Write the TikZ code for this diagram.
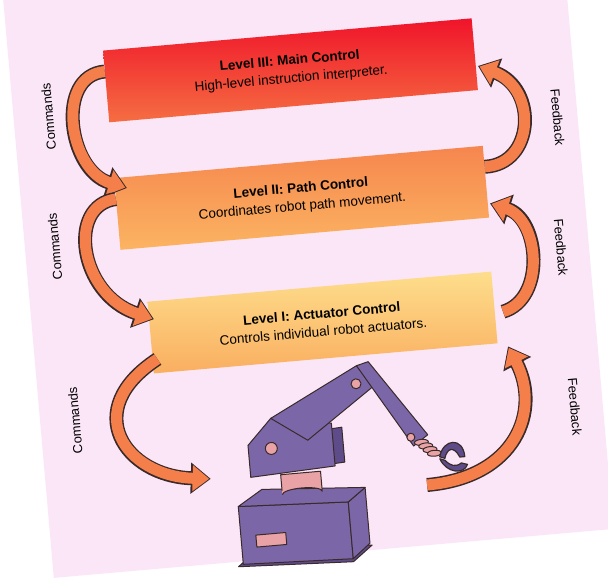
\documentclass[tikz,border=0pt]{standalone}
\usepackage{fontspec}
\setmainfont{Liberation Sans}
\usetikzlibrary{arrows.meta,calc}
\definecolor{pinkbg}{HTML}{FBE6F8}
\definecolor{arrowor}{HTML}{F47F4A}
\definecolor{edge}{HTML}{3A2A2A}
\definecolor{rob}{HTML}{7B67A8}
\definecolor{robd}{HTML}{5E4C8A}
\definecolor{robp}{HTML}{E9A3A6}
\definecolor{c3t}{HTML}{F0142A}
\definecolor{c3b}{HTML}{F56E42}
\definecolor{c2t}{HTML}{F6864E}
\definecolor{c2b}{HTML}{FBB462}
\definecolor{c1t}{HTML}{FDDE8C}
\definecolor{c1b}{HTML}{FAAE60}
\tikzset{
 box/.style={draw=none,minimum height=72pt,align=center,font=\fontsize{13.5}{18}\selectfont,transform shape},
 arrowout/.style={draw=edge,line width=14pt,-{Triangle[width=30pt,length=20pt]}},
 arrowin/.style={draw=arrowor,line width=11pt,shorten >=1.6pt,-{Triangle[width=25pt,length=16.5pt]}},
 lab/.style={font=\fontsize{13}{15}\selectfont,transform shape},
 rb/.style={fill=rob,draw=edge,line width=1pt,line join=round},
}
\newcommand{\blockarrow}[1]{\draw[arrowout] #1; \draw[arrowin] #1;}
\begin{document}
\begin{tikzpicture}[x=1pt,y=-1pt]
\useasboundingbox (0,0) rectangle (608,588);
\fill[white] (0,0) rectangle (608,588);
\begin{scope}[rotate around={5:(304,294)}]
\fill[pinkbg] (30,-30) rectangle (592,555);
\node[box,minimum width=370pt,top color=c3t,bottom color=c3b] (L3) at (310,70)
 {\textbf{Level III: Main Control}\\High-level instruction interpreter.};
\node[box,minimum width=370pt,top color=c2t,bottom color=c2b] (L2) at (310,198)
 {\textbf{Level II: Path Control}\\Coordinates robot path movement.};
\node[box,minimum width=345pt,top color=c1t,bottom color=c1b] (L1) at (320,324)
 {\textbf{Level I: Actuator Control}\\Controls individual robot actuators.};
% robot
\begin{scope}[shift={(290,510)}]
 \draw[rb,fill=robd] (-75,50) -- (40,55) -- (60,40) -- (-55,35) -- cycle;
 \draw[rb] (-70,48) -- (40,52) -- (40,-5) -- (-70,-10) -- cycle;
 \draw[rb] (40,52) -- (58,38) -- (58,-18) -- (40,-5) -- cycle;
 \draw[rb] (-70,-10) -- (40,-5) -- (58,-18) -- (-45,-25) -- cycle;
 \draw[rb,fill=robp] (-55,20) rectangle (-25,32);
 \draw[rb,fill=robp] (-25,-22) -- (-25,-38) -- (15,-38) -- (15,-18) arc(0:-180:20 and 5);
 \draw[rb,fill=robd] (-50,-75) -- (40,-80) -- (40,-45) -- (-50,-40) -- cycle;
 \draw[rb] (-55,-38) -- (30,-42) -- (30,-85) -- (-30,-95) -- (-55,-70) -- cycle;
 \draw[rb,fill=robp] (-32,-65) circle (6);
 \draw[rb] (-30,-95) -- (60,-140) -- (75,-118) -- (5,-70) -- cycle;
 \draw[rb,fill=robp] (58,-122) circle (5);
 \draw[rb] (60,-140) -- (72,-143) -- (125,-65) -- (110,-55) -- cycle;
 \draw[rb,fill=robp] (108,-64) circle (4);
 \foreach \i in {0,1,2,3} \draw[rb,fill=robp] (118+4*\i,-58+4*\i) ellipse (7 and 3);
 \draw[rb,line width=1.2pt,fill=robd] (135,-42) .. controls (140,-60) and (160,-60) .. (160,-40) -- (155,-40) .. controls (150,-52) and (143,-50) .. (140,-40) -- cycle;
 \draw[rb,line width=1.2pt,fill=robd] (135,-40) .. controls (140,-25) and (158,-22) .. (162,-32) -- (156,-34) .. controls (150,-30) and (145,-32) .. (140,-38) -- cycle;
\end{scope}
% commands arrows
\blockarrow{(L3.west) ++(0,-15) .. controls (75,55) and (80,150) .. ($(L2.west)+(12,-25)$)}
\blockarrow{(L2.west) ++(0,-15) .. controls (75,185) and (80,275) .. ($(L1.west)+(5,-18)$)}
\blockarrow{($(L1.west)+(5,22)$) .. controls (70,390) and (110,460) .. (195,470)}
% feedback arrows
\blockarrow{(L2.east) ++(0,-15) .. controls (545,185) and (555,110) .. ($(L3.east)+(2,12)$)}
\blockarrow{(L1.east) ++(8,5) .. controls (545,320) and (545,240) .. ($(L2.east)+(2,22)$)}
\blockarrow{(410,495) .. controls (500,495) and (530,430) .. ($(L1.east)+(10,40)$)}
\node[lab,rotate=90] (c1) at (65,95) {Commands};
\node[lab,rotate=90] (c2) at (60,225) {Commands};
\node[lab,rotate=90] (c3) at (65,400) {Commands};
\node[lab,rotate=-90] (f1) at (572,140) {Feedback};
\node[lab,rotate=-90] (f2) at (564,270) {Feedback};
\node[lab,rotate=-90] (f3) at (564,430) {Feedback};
\end{scope}
\end{tikzpicture}
\end{document}
